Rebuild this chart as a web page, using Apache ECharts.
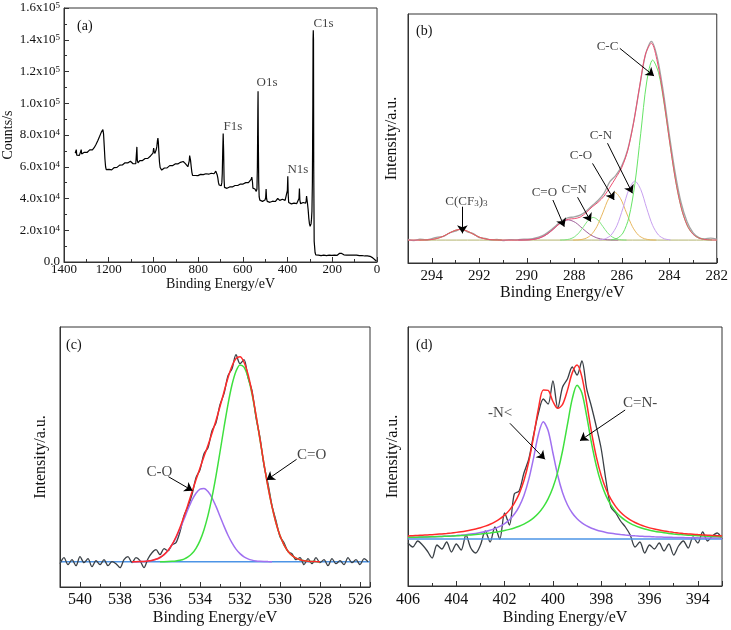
<!DOCTYPE html>
<html><head><meta charset="utf-8">
<script src="https://cdn.jsdelivr.net/npm/echarts@6/dist/echarts.min.js"></script>
<style>html,body{margin:0;padding:0;background:#fff}#c{width:731px;height:630px}</style>
</head><body><div id="c"></div>
<script>
const FONT = '"Liberation Serif","Times New Roman",serif';

// ---------- (a) survey spectrum: [binding energy eV, counts/s]
const surveyA = [[1350,68500],[1347,67600],[1345,70800],[1343,67300],[1339,66900],[1335,68100],[1331,67200],[1327,68400],[1323,70800],[1321,68000],[1317,68900],[1313,68200],[1309,69100],[1305,68500],[1301,69600],[1297,69000],[1293,70100],[1289,69500],[1285,70600],[1281,70000],[1277,71100],[1273,70600],[1269,71600],[1265,72000],[1261,72900],[1257,74000],[1253,75100],[1249,76400],[1245,77600],[1241,79000],[1237,80400],[1233,81800],[1230,83000],[1228,82300],[1226,83400],[1223,80500],[1220,73000],[1217,65000],[1214,60000],[1211,58200],[1207,58600],[1203,57400],[1199,58300],[1195,57700],[1191,58600],[1187,58000],[1183,59000],[1179,58500],[1175,59500],[1171,59100],[1167,60000],[1163,59600],[1159,60500],[1155,60100],[1151,61000],[1147,60600],[1143,61500],[1139,61100],[1135,62000],[1131,61600],[1127,62500],[1123,62000],[1119,63000],[1115,62400],[1111,63200],[1107,62700],[1103,63500],[1099,63000],[1095,62500],[1091,61900],[1087,61400],[1083,62300],[1079,61900],[1076,63000],[1074,72500],[1072,64000],[1069,62400],[1065,63200],[1061,63800],[1057,63300],[1053,64200],[1049,63900],[1045,64800],[1041,64400],[1037,65200],[1033,64900],[1029,65800],[1025,65300],[1021,66200],[1017,65900],[1013,66800],[1009,67000],[1005,68000],[1002,68600],[999,71800],[997,69800],[994,68400],[991,69000],[988,70500],[985,72500],[982,76500],[980,78000],[978,75500],[976,70000],[973,63000],[970,59500],[967,58500],[963,57900],[959,58800],[955,58300],[951,59200],[947,58900],[943,59700],[939,59300],[935,60200],[931,59900],[927,60700],[923,60300],[919,61000],[915,60700],[911,61500],[907,61100],[903,61800],[899,61400],[895,62200],[891,61800],[887,62500],[883,62200],[879,62800],[875,62400],[871,63000],[867,63300],[863,64000],[860,63000],[857,62000],[853,61500],[849,61000],[846,60000],[843,61000],[840,63500],[838,67000],[836,68000],[834,64000],[831,60000],[828,56500],[825,54500],[821,53800],[817,53400],[813,54500],[809,54100],[805,54800],[801,54400],[797,55000],[793,54500],[789,55200],[785,54900],[781,55500],[777,55000],[773,55500],[769,55100],[765,55600],[761,55200],[757,55700],[753,55300],[749,55800],[745,55400],[741,55900],[737,55500],[733,56000],[729,55600],[725,56100],[721,57200],[718,56000],[715,55000],[712,53000],[709,50000],[706,48500],[703,48000],[700,47500],[697,48000],[694,50000],[692,56000],[690,70000],[688,81000],[686,70000],[684,52000],[682,47000],[679,46400],[675,46800],[671,46400],[667,47000],[663,46700],[659,47300],[655,47000],[651,47600],[647,47300],[643,47900],[639,47600],[635,48200],[631,47900],[627,48500],[623,48200],[619,48800],[615,48500],[611,49100],[607,48800],[603,49400],[599,49100],[595,49700],[591,49400],[587,50000],[583,49700],[579,50300],[575,50000],[571,50600],[567,50500],[563,52000],[560,53500],[557,50500],[555,46500],[552,45500],[549,46500],[546,46000],[543,45500],[540,44500],[537,46000],[535,60000],[533,95000],[532,107500],[531,80000],[529,50000],[527,41000],[524,39000],[520,38500],[516,38900],[512,38200],[508,38000],[504,38600],[501,39000],[498,40500],[496,46000],[494,40000],[491,38200],[487,37600],[483,38100],[479,37600],[475,38200],[471,37800],[467,38300],[463,37800],[459,38500],[455,38100],[451,38800],[447,39300],[444,40000],[441,40800],[438,39300],[435,38800],[431,39300],[427,38800],[423,39500],[419,38900],[415,39300],[411,38800],[407,39100],[404,39500],[401,45000],[399,54000],[397,42000],[395,37500],[391,36800],[387,37200],[383,36600],[379,37000],[375,36500],[371,37100],[367,36700],[363,37200],[359,36800],[355,37400],[351,37300],[349,40000],[347,46300],[345,39000],[342,36800],[338,37300],[334,36800],[330,37500],[326,37000],[322,37500],[319,37000],[317,38500],[315,41500],[313,40500],[311,37000],[308,33000],[305,27500],[302,24000],[299,22500],[297,23000],[295,24000],[293,27000],[291,32000],[289,50000],[287,100000],[286,140000],[285,146000],[284,140000],[283,60000],[281,13000],[279,9500],[277,6000],[274,4500],[270,4200],[266,4000],[262,4300],[258,4100],[254,4300],[250,4000],[246,4200],[242,4000],[238,4300],[234,4100],[230,4300],[226,4000],[222,4200],[218,4000],[214,4300],[210,4100],[206,4500],[202,4200],[198,4400],[194,4100],[190,4300],[186,4000],[182,4400],[178,4200],[174,4500],[170,4300],[167,5500],[165,4400],[161,4600],[158,5400],[156,4400],[152,4300],[148,4500],[144,4200],[140,4400],[136,4300],[132,4400],[128,4200],[124,4300],[120,4100],[116,4400],[112,4300],[108,4400],[105,5300],[103,4400],[99,4300],[95,4200],[91,4300],[87,4100],[83,4200],[79,4000],[75,4200],[71,4000],[67,4100],[63,3900],[59,4100],[55,3800],[51,4000],[47,3800],[43,3900],[39,3700],[35,3900],[31,3600],[27,3400],[23,3000],[19,2600],[15,2100],[11,1700],[7,1100],[3,600],[1,400]];
const yTickLabelsA = ['0.0','2.0x10{s|4}','4.0x10{s|4}','6.0x10{s|4}','8.0x10{s|4}','1.0x10{s|5}','1.2x10{s|5}','1.4x10{s|5}','1.6x10{s|5}'];
const labelsA = [{name:'C1s',value:[239,150000]},{name:'O1s',value:[492,113000]},{name:'F1s',value:[645,85200]},{name:'N1s',value:[354,58400]}];

// ---------- (b) C1s
const eB = [295,294.75,294.5,294.25,294,293.75,293.5,293.25,293,292.75,292.5,292.25,292,291.75,291.5,291.25,291,290.75,290.5,290.25,290,289.75,289.5,289.25,289,288.75,288.5,288.25,288,287.75,287.5,287.25,287,286.75,286.5,286.25,286,285.75,285.5,285.25,285,284.75,284.5,284.25,284,283.75,283.5,283.25,283,282.75,282.5,282.25,282];
const rawB = [0.3,-0.2,0.4,0.1,0.6,1.2,1.5,2.9,3.6,4.6,3.3,2.6,1.0,0.7,0.1,0.3,-0.2,0.2,0.1,0.3,0.4,0.6,1.2,2.2,3.9,6.0,7.9,9.0,9.3,10.0,11.6,13.8,15.9,18.8,23.5,26.0,29.8,36.3,47.4,61.3,74.5,79.8,73.2,59.5,42.6,27.0,15.0,7.4,3.0,1.0,0.5,0.8,0.4];
const fitB = [0,0,0.01,0.06,0.24,0.71,1.61,2.87,3.97,4.28,3.59,2.35,1.19,0.47,0.15,0.04,0.01,0,0,0.02,0.07,0.25,0.73,1.74,3.40,5.52,7.40,8.39,8.61,9.23,11.01,13.31,15.16,17.61,21.22,25.03,29.14,35.93,47.17,61.59,74.73,79.08,71.53,57.58,40.63,24.87,13.15,6.01,2.36,0.80,0.24,0.06,0.01];
const cf3B = [[294.55,0.01],[294.3,0.05],[294.05,0.19],[293.8,0.58],[293.55,1.40],[293.3,2.61],[293.05,3.79],[292.8,4.3],[292.55,3.79],[292.3,2.61],[292.05,1.40],[291.8,0.58],[291.55,0.19],[291.3,0.05],[291.05,0.01]];
const cdoB = [[290.35,0.01],[290.05,0.06],[289.75,0.25],[289.45,0.88],[289.15,2.33],[288.85,4.65],[288.55,7.06],[288.25,8.1],[287.95,7.06],[287.65,4.65],[287.35,2.33],[287.05,0.88],[286.75,0.25],[286.45,0.06],[286.15,0.01]];
const cdnB = [[288.6,0.02],[288.4,0.10],[288.2,0.40],[288.0,1.23],[287.8,2.95],[287.6,5.52],[287.4,8.03],[287.2,9.1],[287.0,8.03],[286.8,5.52],[286.6,2.95],[286.4,1.23],[286.2,0.40],[286.0,0.10],[285.8,0.02]];
const coB = [[288.05,0.02],[287.8,0.12],[287.55,0.56],[287.3,2.0],[287.05,5.38],[286.8,10.91],[286.55,16.67],[286.3,19.2],[286.05,16.67],[285.8,10.91],[285.55,5.38],[285.3,2.0],[285.05,0.56],[284.8,0.12],[284.55,0.02]];
const cnB = [[286.95,0.09],[286.7,0.50],[286.45,2.01],[286.2,5.90],[285.95,12.80],[285.7,20.31],[285.45,23.7],[285.2,20.31],[284.95,12.80],[284.7,5.90],[284.45,2.01],[284.2,0.50],[283.95,0.09]];
const ccB = [[286.45,0.12],[286.2,0.67],[285.95,2.82],[285.7,9.04],[285.45,22.4],[285.2,42.9],[284.95,63.5],[284.7,72.3],[284.45,67.2],[284.2,53.8],[283.95,37.2],[283.7,22.1],[283.45,11.35],[283.2,5.04],[282.95,1.93],[282.7,0.64],[282.45,0.18],[282.2,0.05]];
const baseB = [[295,0],[282,0]];
const labelsB = [{name:'C(CF{sub|3}){sub|3}',value:[292.54,15.4]},{name:'C=O',value:[289.26,19.0]},{name:'C=N',value:[288.0,20.1]},{name:'C-O',value:[287.72,33.8]},{name:'C-N',value:[286.88,41.8]},{name:'C-C',value:[286.6,77.7]}];
const arrowsB = [[292.71,13.4,292.71,2.7],[288.9,16.1,288.42,5.4],[287.86,17.2,287.30,7.4],[287.23,30.8,286.32,16.1],[286.6,38.9,285.55,18.8],[286.08,77.0,284.64,65.9]];

// ---------- (c) O1s
const eC = [541.0,540.8,540.6,540.4,540.2,540.0,539.8,539.6,539.4,539.2,539.0,538.8,538.6,538.4,538.2,538.0,537.8,537.6,537.4,537.2,537.0,536.8,536.6,536.4,536.2,536.0,535.8,535.6,535.4,535.2,535.0,534.8,534.6,534.4,534.2,534.0,533.8,533.6,533.4,533.2,533.0,532.8,532.6,532.4,532.2,532.0,531.8,531.6,531.4,531.2,531.0,530.8,530.6,530.4,530.2,530.0,529.8,529.6,529.4,529.2,529.0,528.8,528.6,528.4,528.2,528.0,527.8,527.6,527.4,527.2,527.0,526.8,526.6,526.4,526.2,526.0,525.8,525.6];
const rawC = [-2,4,-3,2,-4,5,-1,3,-5,1,-3,2,-4,0,-2,-6,2,5,-1,4,1,-6,3,9,12,7,13,11,17,19,30,46,55,67,84,92,108,114,131,139,157,168,186,193,207,198,202,184,171,144,124,96,78,56,41,25,19,10,8,2,4,-3,3,-2,4,-1,2,-4,3,-2,1,-3,4,-1,2,-3,3,0];
const coC = [null,null,null,null,null,null,null,null,null,null,null,null,null,null,null,null,null,null,0.03,0.07,0.15,0.32,0.67,1.29,2.38,4.19,7.0,11.08,16.74,24.0,32.8,42.5,52.4,61.5,68.5,72.6,73.2,70.1,63.9,55.3,45.5,35.6,26.5,18.8,12.6,8.07,4.91,2.84,1.56,0.81,0.40,0.19,0.08,0.03,null,null,null,null,null,null,null,null,null,null,null,null,null,null,null,null,null,null,null,null,null,null,null,null];
const cdoC = [null,null,null,null,null,null,null,null,null,null,null,null,null,null,null,null,null,null,null,null,null,null,null,null,null,0.03,0.07,0.17,0.36,0.72,1.41,2.62,4.73,8.1,13.4,21.1,32.0,46.3,64.5,85.9,109.7,134.2,157.4,176.9,190.5,196.8,194.6,184.6,167.7,146.1,121.9,97.5,74.8,55.0,38.7,26.1,16.9,10.5,6.2,3.5,1.9,1.0,0.5,0.23,0.1,0.04,null,null,null,null,null,null,null,null,null,null,null,null];
const fitC = [null,null,null,null,null,null,null,null,null,null,null,null,null,null,null,null,null,null,0.03,0.07,0.15,0.32,0.67,1.29,2.38,4.22,7.07,11.25,17.1,24.72,34.21,45.12,57.13,69.6,81.9,93.7,105.2,116.4,128.4,141.2,155.2,169.8,183.9,195.7,203.1,204.87,199.51,187.44,169.26,146.91,122.3,97.69,74.88,55.03,38.7,26.1,16.9,10.5,6.2,3.5,1.9,1.0,0.5,0.23,0.1,0.04,null,null,null,null,null,null,null,null,null,null,null,null];
const baseC = [[541,0],[525.5,0]];
const labelsC = [{name:'C-O',value:[536.03,90]},{name:'C=O',value:[528.42,106.7]}];
const arrowsC = [[535.58,85,534.37,71],[529.17,102.4,530.67,81.7]];

// ---------- (d) N1s
const eD = [406.0,405.8,405.6,405.4,405.2,405.0,404.8,404.6,404.4,404.2,404.0,403.8,403.6,403.4,403.2,403.0,402.8,402.6,402.4,402.2,402.0,401.8,401.6,401.4,401.2,401.0,400.8,400.6,400.4,400.2,400.0,399.8,399.6,399.4,399.2,399.0,398.8,398.6,398.4,398.2,398.0,397.8,397.6,397.4,397.2,397.0,396.8,396.6,396.4,396.2,396.0,395.8,395.6,395.4,395.2,395.0,394.8,394.6,394.4,394.2,394.0,393.8,393.6,393.4,393.2,393.0];
const rawD = [-4,-8,-2,-6,-12,-19,-6,-10,-3,-13,-5,-11,4,-9,-14,-6,8,-3,12,0,26,14,45,48,66,80,104,126,140,135,158,131,152,160,172,164,178,150,132,112,90,58,32,26,18,12,4,-8,-3,-14,-6,-10,-4,-12,-5,-16,-7,-2,-9,2,-4,7,-2,3,6,0];
const nD = [1.46,1.56,1.68,1.82,1.97,2.14,2.34,2.56,2.81,3.10,3.45,3.85,4.33,4.89,5.58,6.41,7.45,8.74,10.40,12.55,15.41,19.29,24.69,32.39,43.54,59.59,81.21,104.55,117.18,108.45,86.01,63.49,46.31,34.30,26.02,20.23,16.09,13.06,10.78,9.04,7.68,6.60,5.73,5.02,4.43,3.94,3.52,3.17,2.87,2.61,2.38,2.18,2.00,1.85,1.71,1.59,1.48,1.38,1.29,1.21,1.13,1.07,1.00,0.95,0.90,0.85];
const cnD = [1.64,1.74,1.84,1.96,2.09,2.23,2.38,2.55,2.74,2.94,3.18,3.44,3.74,4.07,4.45,4.89,5.40,5.99,6.67,7.48,8.45,9.61,11.02,12.75,14.91,17.63,21.14,25.73,31.84,40.11,51.49,67.16,88.26,114.33,140.09,153.74,146.08,122.52,95.67,72.90,55.68,43.15,34.06,27.37,22.39,18.59,15.66,13.34,11.50,10.00,8.77,7.75,6.90,6.18,5.57,5.04,4.58,4.18,3.83,3.52,3.25,3.01,2.79,2.60,2.43,2.27];
const fitD = [3.10,3.30,3.52,3.78,4.06,4.37,4.72,5.11,5.55,6.04,6.63,7.29,8.07,8.96,10.03,11.30,12.85,14.73,17.07,20.03,23.86,28.90,35.71,45.14,58.45,77.22,102.35,130.28,149.02,148.56,137.50,130.65,134.57,148.63,166.11,173.97,162.17,135.58,106.45,81.94,63.36,49.75,39.79,32.39,26.82,22.53,19.18,16.51,14.37,12.61,11.15,9.93,8.90,8.03,7.28,6.63,6.06,5.56,5.12,4.73,4.38,4.08,3.79,3.55,3.33,3.12];
const baseD = [[406,0],[393,0]];
const labelsD = [{name:'-N<',value:[402.19,125.7]},{name:'C=N-',value:[396.39,135.7]}];
const arrowsD = [[401.78,115.7,400.33,79.7],[397.01,129,398.88,98.3]];

// ---------- build
const zip = (xs, ys) => xs.map((x, i) => [x, ys[i]]).filter(p => p[1] !== null && p[1] !== undefined);
const TXT = '#111';

function xAxisCfg(gi, o) {
  return Object.assign({
    type: 'value', gridIndex: gi, inverse: true, nameLocation: 'middle',
    name: 'Binding Energy/eV',
    nameTextStyle: { fontFamily: FONT, fontSize: 16, color: TXT },
    axisLine: { show: true, onZero: false, lineStyle: { color: '#333', width: 1 } },
    axisTick: { show: true, inside: true, length: 5, lineStyle: { color: '#333' } },
    minorTick: { show: true, splitNumber: 2, length: 3, lineStyle: { color: '#333' } },
    splitLine: { show: false }, minorSplitLine: { show: false },
    axisLabel: { fontFamily: FONT, fontSize: 16, color: TXT, margin: 5, formatter: v => String(v) }
  }, o);
}
function yAxisHidden(gi, min, max, gap) {
  return {
    type: 'value', gridIndex: gi, min, max, name: 'Intensity/a.u.', nameLocation: 'middle', nameGap: gap,
    nameTextStyle: { fontFamily: FONT, fontSize: 16, color: TXT },
    axisLine: { show: true, onZero: false, lineStyle: { color: '#333' } },
    axisTick: { show: false }, axisLabel: { show: false }, splitLine: { show: false }
  };
}
function lineS(gi, data, color, width, z) {
  return { type: 'line', xAxisIndex: gi, yAxisIndex: gi, data, showSymbol: false, symbol: 'none',
    smooth: 0.3, lineStyle: { color, width }, itemStyle: { color }, z: z || 2, silent: true };
}
function labelS(gi, data, fs, arrows) {
  return {
    type: 'scatter', xAxisIndex: gi, yAxisIndex: gi, data, symbolSize: 1, z: 10, silent: true,
    itemStyle: { color: 'rgba(0,0,0,0)' },
    label: { show: true, position: 'inside', formatter: p => p.name, fontFamily: FONT, fontSize: fs, color: TXT,
      rich: { sub: { fontFamily: FONT, fontSize: fs * 0.7, verticalAlign: 'bottom', color: TXT } } },
    markLine: {
      silent: true, symbol: ['none', 'arrow'], symbolSize: 8, animation: false,
      lineStyle: { color: '#000', width: 1, type: 'solid' }, label: { show: false },
      data: arrows.map(a => [{ coord: [a[0], a[1]] }, { coord: [a[2], a[3]] }])
    }
  };
}

const gridBase = { show: true, borderColor: '#333', borderWidth: 1, backgroundColor: 'rgba(0,0,0,0)' };
const option = {
  animation: false,
  backgroundColor: '#fff',
  grid: [
    Object.assign({ left: 63, top: 8, width: 314, height: 254 }, gridBase),
    Object.assign({ left: 408, top: 14, width: 310, height: 249 }, gridBase),
    Object.assign({ left: 60, top: 327, width: 310, height: 260 }, gridBase),
    Object.assign({ left: 408, top: 327, width: 314, height: 259 }, gridBase)
  ],
  xAxis: [
    xAxisCfg(0, { min: 0, max: 1400, interval: 200, nameGap: 12,
      nameTextStyle: { fontFamily: FONT, fontSize: 14, color: TXT },
      axisLabel: { fontFamily: FONT, fontSize: 13, color: TXT, margin: 1, formatter: v => String(v) } }),
    xAxisCfg(1, { min: 282, max: 295, interval: 2, nameGap: 19,
      axisLabel: { fontFamily: FONT, fontSize: 15, color: TXT, margin: 6, showMaxLabel: false, formatter: v => String(v) } }),
    xAxisCfg(2, { min: 525.5, max: 541, splitNumber: 8, nameGap: 23,
      axisLabel: { fontFamily: FONT, fontSize: 16, color: TXT, margin: 5, showMinLabel: false, showMaxLabel: false, formatter: v => String(v) } }),
    xAxisCfg(3, { min: 393, max: 406, splitNumber: 7, nameGap: 24,
      axisLabel: { fontFamily: FONT, fontSize: 16, color: TXT, margin: 6, showMinLabel: false, formatter: v => String(v) } })
  ],
  yAxis: [
    { type: 'value', gridIndex: 0, min: 0, max: 160000, interval: 20000, name: 'Counts/s', nameLocation: 'middle', nameGap: 49,
      nameTextStyle: { fontFamily: FONT, fontSize: 14, color: TXT },
      axisLine: { show: true, onZero: false, lineStyle: { color: '#333' } },
      axisTick: { show: true, inside: true, length: 5, lineStyle: { color: '#333' } },
      minorTick: { show: true, splitNumber: 2, length: 3, lineStyle: { color: '#333' } },
      splitLine: { show: false }, minorSplitLine: { show: false },
      axisLabel: { fontFamily: FONT, fontSize: 13, color: TXT, margin: 4,
        formatter: v => yTickLabelsA[Math.round(v / 20000)] || '',
        rich: { s: { fontFamily: FONT, fontSize: 9, color: TXT, verticalAlign: 'top' } } } },
    yAxisHidden(1, -9.2, 90.8, 8),
    yAxisHidden(2, -25.3, 234.7, 11),
    yAxisHidden(3, -47, 212, 7)
  ],
  graphic: [
    { type: 'text', left: 77, top: 19, style: { text: '(a)', font: '14px ' + FONT, fill: TXT } },
    { type: 'text', left: 416, top: 24, style: { text: '(b)', font: '14px ' + FONT, fill: TXT } },
    { type: 'text', left: 66, top: 338, style: { text: '(c)', font: '14px ' + FONT, fill: TXT } },
    { type: 'text', left: 416, top: 338, style: { text: '(d)', font: '14px ' + FONT, fill: TXT } }
  ],
  series: [
    // (a)
    Object.assign(lineS(0, surveyA, '#000', 1.2), { smooth: false }),
    labelS(0, labelsA, 13, []),
    // (b)
    lineS(1, baseB, '#b4b46e', 1, 1),
    lineS(1, zip(eB, rawB), '#a3a3a3', 1.3, 2),
    lineS(1, cf3B, '#a8a848', 1, 3),
    lineS(1, cdoB, '#a0609a', 1, 3),
    lineS(1, cdnB, '#7fe57f', 1, 3),
    lineS(1, coB, '#e8b860', 1, 3),
    lineS(1, cnB, '#c8a0f0', 1, 3),
    lineS(1, ccB, '#66e466', 1, 3),
    lineS(1, zip(eB, fitB), '#ee4f72', 1, 4),
    labelS(1, labelsB, 13, arrowsB),
    // (c)
    lineS(2, baseC, '#4d94e6', 1.5, 1),
    lineS(2, zip(eC, rawC), '#3a4046', 1.3, 2),
    lineS(2, zip(eC, coC), '#a070f0', 1.5, 3),
    lineS(2, zip(eC, cdoC), '#3ee03e', 1.5, 3),
    lineS(2, zip(eC, fitC), '#ff2a2a', 1.5, 4),
    labelS(2, labelsC, 15, arrowsC),
    // (d)
    lineS(3, zip(eD, rawD), '#3a4046', 1.3, 2),
    lineS(3, baseD, '#4d94e6', 1.5, 3),
    lineS(3, zip(eD, nD), '#a070f0', 1.5, 3),
    lineS(3, zip(eD, cnD), '#3ee03e', 1.5, 3),
    lineS(3, zip(eD, fitD), '#ff2a2a', 1.5, 4),
    labelS(3, labelsD, 15, arrowsD)
  ]
};
const chart = echarts.init(document.getElementById('c'), null, { renderer: 'canvas' });
chart.setOption(option);
</script></body></html>
